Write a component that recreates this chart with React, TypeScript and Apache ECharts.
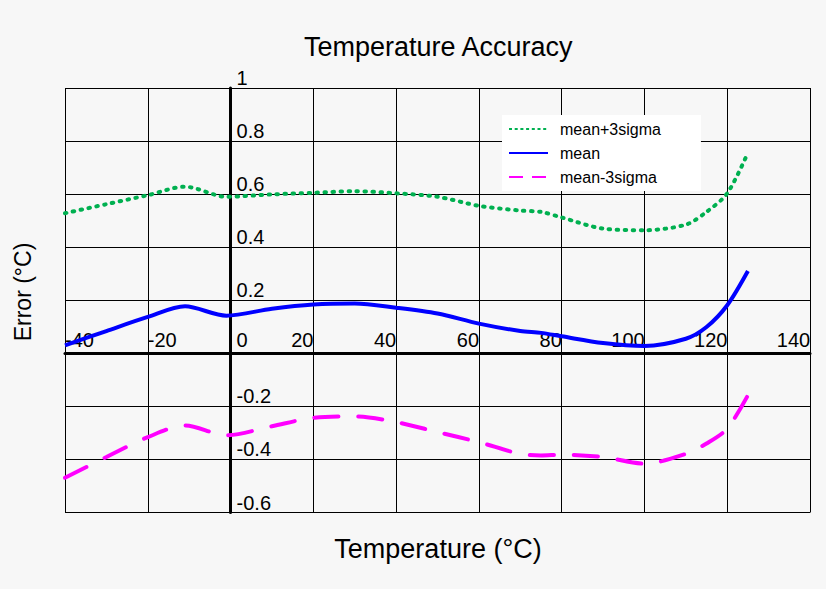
import React, { useEffect, useRef } from 'react';
import * as echarts from 'echarts';

// temperature points (°C) shared by the three curves
const temps = [-40, -30, -20, -11, -1, 10, 20, 30, 40, 50, 60, 70, 75, 80, 90, 100, 110, 115, 120, 125];

const plus3Sigma = [0.528, 0.562, 0.596, 0.628, 0.59, 0.599, 0.605, 0.611, 0.603, 0.59, 0.556, 0.538, 0.533, 0.512, 0.47, 0.464, 0.485, 0.533, 0.603, 0.756];
const meanErr = [0.03, 0.084, 0.137, 0.177, 0.142, 0.168, 0.184, 0.188, 0.172, 0.15, 0.112, 0.084, 0.077, 0.064, 0.039, 0.028, 0.055, 0.099, 0.181, 0.31];
const minus3Sigma = [-0.469, -0.391, -0.316, -0.272, -0.309, -0.275, -0.243, -0.238, -0.259, -0.297, -0.335, -0.379, -0.385, -0.382, -0.391, -0.416, -0.379, -0.34, -0.284, -0.158];

const seriesNames = ['mean+3sigma', 'mean', 'mean-3sigma'];

const FONT = "'Liberation Sans', Arial, sans-serif";

const pairs = (ys: number[]) => temps.map((t, i) => [t, ys[i]]);

const App: React.FC = () => {
    const chartRef = useRef<HTMLDivElement>(null);

    useEffect(() => {
        document.body.style.margin = '0';
        if (!chartRef.current) return;
        const chart = echarts.init(chartRef.current, undefined, { renderer: 'svg' });

        const option = {
            animation: false,
            backgroundColor: '#f7f7f7',
            textStyle: { fontFamily: FONT },
            title: {
                text: 'Temperature Accuracy',
                left: 304,
                top: 33,
                padding: 0,
                textStyle: { fontSize: 27, fontWeight: 'normal', color: '#000', fontFamily: FONT },
            },
            graphic: [
                {
                    type: 'text',
                    x: 438,
                    y: 549,
                    style: { text: 'Temperature (°C)', fontSize: 27, fontFamily: FONT, fill: '#000', align: 'center', verticalAlign: 'middle' },
                },
                {
                    type: 'text',
                    x: 23,
                    y: 292,
                    rotation: Math.PI / 2,
                    style: { text: 'Error (°C)', fontSize: 23, fontFamily: FONT, fill: '#000', align: 'center', verticalAlign: 'middle' },
                },
            ],
            legend: {
                orient: 'vertical',
                left: 502,
                top: 115,
                padding: [6, 40, 6, 6],
                backgroundColor: '#ffffff',
                itemWidth: 39,
                itemHeight: 14,
                itemGap: 8,
                itemStyle: { opacity: 0 },
                textStyle: { fontSize: 16, color: '#000', fontFamily: FONT, padding: [0, 0, 0, 7] },
                data: [
                    { name: seriesNames[0], lineStyle: { width: 2, type: [3, 2.7], cap: 'butt' } },
                    { name: seriesNames[1], lineStyle: { width: 2 } },
                    { name: seriesNames[2], lineStyle: { width: 2, type: [14, 9], cap: 'butt' } },
                ],
            },
            grid: { left: 65, right: 16, top: 88, bottom: 76.5, containLabel: false, outerBoundsMode: 'none' },
            xAxis: {
                type: 'value',
                min: -40,
                max: 140,
                interval: 20,
                offset: 0,
                axisLine: { show: true, onZero: false, lineStyle: { color: '#000', width: 3 } },
                axisTick: { show: false },
                splitLine: { show: true, lineStyle: { color: '#000', width: 1 } },
                axisLabel: {
                    inside: true,
                    margin: 3,
                    color: '#000',
                    fontSize: 20,
                    fontFamily: FONT,
                    showMinLabel: true,
                    showMaxLabel: true,
                    formatter: (v: number) => {
                        if (v < 0) return `{n|${v}}`;
                        if (v === 0) return '{z|0}';
                        if (v >= 100) return `{p3|${v}}`;
                        return `{p2|${v}}`;
                    },
                    rich: {
                        n: { fontSize: 20, fontFamily: FONT, color: '#000', padding: [0, 0, 0, 29] },
                        z: { fontSize: 20, fontFamily: FONT, color: '#000', padding: [0, 0, 0, 23] },
                        p2: { fontSize: 20, fontFamily: FONT, color: '#000', padding: [0, 22, 0, 0] },
                        p3: { fontSize: 20, fontFamily: FONT, color: '#000', padding: [0, 33, 0, 0] },
                    },
                },
            },
            yAxis: {
                type: 'value',
                min: -0.6,
                max: 1,
                interval: 0.2,
                offset: 0,
                axisLine: { show: true, onZero: false, lineStyle: { color: '#000', width: 3 } },
                axisTick: { show: false },
                splitLine: { show: true, lineStyle: { color: '#000', width: 1 } },
                axisLabel: {
                    inside: true,
                    margin: 6,
                    align: 'left',
                    verticalAlign: 'bottom',
                    color: '#000',
                    fontSize: 20,
                    fontFamily: FONT,
                    showMinLabel: true,
                    showMaxLabel: true,
                    formatter: (v: number) => (Math.abs(v) < 1e-9 ? '' : String(Math.round(v * 10) / 10)),
                },
            },
            series: [
                {
                    name: seriesNames[0],
                    type: 'line',
                    data: pairs(plus3Sigma),
                    smooth: 0.3,
                    symbol: 'none',
                    color: '#00b050',
                    lineStyle: { color: '#00b050', width: 4, type: [1.5, 6.5], cap: 'round' },
                },
                {
                    name: seriesNames[1],
                    type: 'line',
                    data: pairs(meanErr),
                    smooth: 0.3,
                    symbol: 'none',
                    color: '#0000ff',
                    lineStyle: { color: '#0000ff', width: 4, type: 'solid' },
                },
                {
                    name: seriesNames[2],
                    type: 'line',
                    data: pairs(minus3Sigma),
                    smooth: 0.3,
                    symbol: 'none',
                    color: '#ff00ff',
                    lineStyle: { color: '#ff00ff', width: 4, type: [24, 20], cap: 'round' },
                },
            ],
        };

        chart.setOption(option as any);

        // move both axes (line + labels) onto the zero crossing, using the chart's own scales
        const zero = chart.convertToPixel({ gridIndex: 0 }, [0, 0]) as number[];
        const corner = chart.convertToPixel({ gridIndex: 0 }, [-40, -0.6]) as number[];
        chart.setOption({
            xAxis: { offset: zero[1] - corner[1] },
            yAxis: { offset: corner[0] - zero[0] },
        });

        return () => {
            chart.dispose();
        };
    }, []);

    return <div ref={chartRef} style={{ width: '826px', height: '589px' }} />;
};

export default App;
